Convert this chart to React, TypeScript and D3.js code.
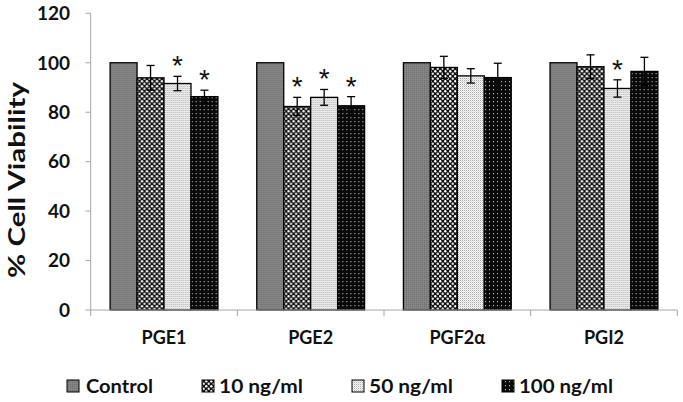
import React from "react";
import * as d3 from "d3";

const categories = ["PGE1", "PGE2", "PGF2α", "PGI2"];
const series = ["Control", "10 ng/ml", "50 ng/ml", "100 ng/ml"];
const control = [100, 100, 100, 100];
const dose10 = [93.9, 82.3, 98.1, 98.4];
const dose50 = [91.6, 86.0, 94.7, 89.6];
const dose100 = [86.3, 82.6, 94.0, 96.5];
const err10 = [5.0, 3.7, 4.5, 4.8];
const err50 = [2.9, 3.2, 2.9, 3.5];
const err100 = [2.6, 3.7, 5.8, 5.7];
// significance marks per series (index per category)
const sig10 = [false, true, false, false];
const sig50 = [true, true, false, true];
const sig100 = [true, true, false, false];
const yTicks = [0, 20, 40, 60, 80, 100, 120];

const values = [control, dose10, dose50, dose100];
const errors: (number[] | null)[] = [null, err10, err50, err100];
const sigs: (boolean[] | null)[] = [null, sig10, sig50, sig100];
const fills = ["url(#pCtrl)", "url(#p10)", "url(#p50)", "url(#p100)"];
const legendX = [67, 202, 352, 502];
const legendTextLen = [67, 84, 84, 94];

const FONT = "Lato, 'Open Sans', 'DejaVu Sans', sans-serif";

export default function App() {
  const W = 683;
  const H = 402;
  const x0 = d3.scaleBand<string>().domain(categories).range([90.7, 677.3]).paddingInner(0).paddingOuter(0);
  const x1 = d3.scaleBand<string>().domain(series).range([0, x0.bandwidth()]).paddingInner(0).paddingOuter(0.72);
  const y = d3.scaleLinear().domain([0, 120]).range([310, 13.3]);
  const axisColor = "#a6a6a6";
  const bands = [...categories.map((c) => x0(c)!), x0.range()[1]];

  return (
    <svg width={W} height={H} style={{ position: "fixed", left: 0, top: 0, background: "#fff" }}>
      <defs>
        <pattern id="pCtrl" width="2" height="2" patternUnits="userSpaceOnUse">
          <rect width="2" height="2" fill="#808080" />
          <rect width="1" height="1" fill="#727272" />
          <rect x="1" y="1" width="1" height="1" fill="#8c8c8c" />
        </pattern>
        <pattern id="p10" width="5" height="5" patternUnits="userSpaceOnUse">
          <rect width="5" height="5" fill="#111" />
          <circle cx="1.25" cy="1.25" r="1.2" fill="#fff" />
          <circle cx="3.75" cy="3.75" r="1.2" fill="#e0e0e0" />
        </pattern>
        <pattern id="p50" width="2" height="2" patternUnits="userSpaceOnUse">
          <rect width="2" height="2" fill="#fafafa" />
          <rect width="1" height="1" fill="#a8a8a8" />
          <rect x="1" y="1" width="1" height="1" fill="#d8d8d8" />
        </pattern>
        <pattern id="p100" width="4" height="4" patternUnits="userSpaceOnUse">
          <rect width="4" height="4" fill="#0a0a0a" />
          <rect x="1" y="1" width="1" height="1.2" fill="#bbb" />
        </pattern>
      </defs>

      {/* y axis */}
      <line x1={90.7} x2={90.7} y1={y(120)} y2={y(0)} stroke={axisColor} strokeWidth={1} />
      {yTicks.map((t) => (
        <g key={t}>
          <line x1={85.5} x2={90.7} y1={y(t)} y2={y(t)} stroke={axisColor} />
          <text x={70} y={y(t)} dy="0.36em" textAnchor="end" fontFamily={FONT} fontWeight={700} fontSize={19} fill="#111">
            {t}
          </text>
        </g>
      ))}
      <text
        transform={`translate(17,180) rotate(-90)`}
        textAnchor="middle"
        dy="0.36em"
        fontFamily={FONT}
        fontWeight={700}
        fontSize={23}
        textLength={196}
        lengthAdjust="spacingAndGlyphs"
        fill="#111"
      >
        % Cell  Viability
      </text>

      {/* bars */}
      {categories.map((c, ci) => (
        <g key={c} transform={`translate(${x0(c)},0)`}>
          {series.map((s, si) => {
            const v = values[si][ci];
            const bx = x1(s)!;
            const bw = x1.bandwidth();
            return (
              <rect key={s} x={bx} y={y(v)} width={bw} height={y(0) - y(v)} fill={fills[si]} stroke="#000" strokeWidth={1.3} />
            );
          })}
          {series.map((s, si) => {
            const e = errors[si];
            if (!e) return null;
            const v = values[si][ci];
            const cx = x1(s)! + x1.bandwidth() / 2;
            const top = y(v + e[ci]);
            const bot = y(v - e[ci]);
            const sg = sigs[si];
            return (
              <g key={s + "e"}>
                <line x1={cx} x2={cx} y1={top} y2={bot} stroke="#000" strokeWidth={1.3} />
                <line x1={cx - 4} x2={cx + 4} y1={top} y2={top} stroke="#000" strokeWidth={1.3} />
                <line x1={cx - 4} x2={cx + 4} y1={bot} y2={bot} stroke="#000" strokeWidth={1.3} />
                {sg && sg[ci] ? (
                  <text x={cx} y={top - 17 + 16} textAnchor="middle" fontFamily="'Liberation Sans', Arial, sans-serif" fontSize={28} fill="#111">
                    *
                  </text>
                ) : null}
              </g>
            );
          })}
        </g>
      ))}

      {/* x axis */}
      <line x1={90.7} x2={677.3} y1={y(0)} y2={y(0)} stroke={axisColor} />
      {bands.map((b, i) => (
        <line key={i} x1={b} x2={b} y1={y(0)} y2={y(0) + 6} stroke={axisColor} />
      ))}
      {categories.map((c) => (
        <text key={c} x={x0(c)! + x0.bandwidth() / 2} y={344} textAnchor="middle" fontFamily={FONT} fontWeight={700} fontSize={18} fill="#111">
          {c}
        </text>
      ))}

      {/* legend */}
      {series.map((s, si) => (
        <g key={s}>
          <rect x={legendX[si]} y={380} width={12} height={12} fill={fills[si]} stroke="#000" strokeWidth={1} />
          <text
            x={legendX[si] + (si === 0 ? 19 : 17)}
            y={393}
            fontFamily={FONT}
            fontWeight={700}
            fontSize={19}
            textLength={legendTextLen[si]}
            lengthAdjust="spacingAndGlyphs"
            fill="#111"
          >
            {s}
          </text>
        </g>
      ))}
    </svg>
  );
}
